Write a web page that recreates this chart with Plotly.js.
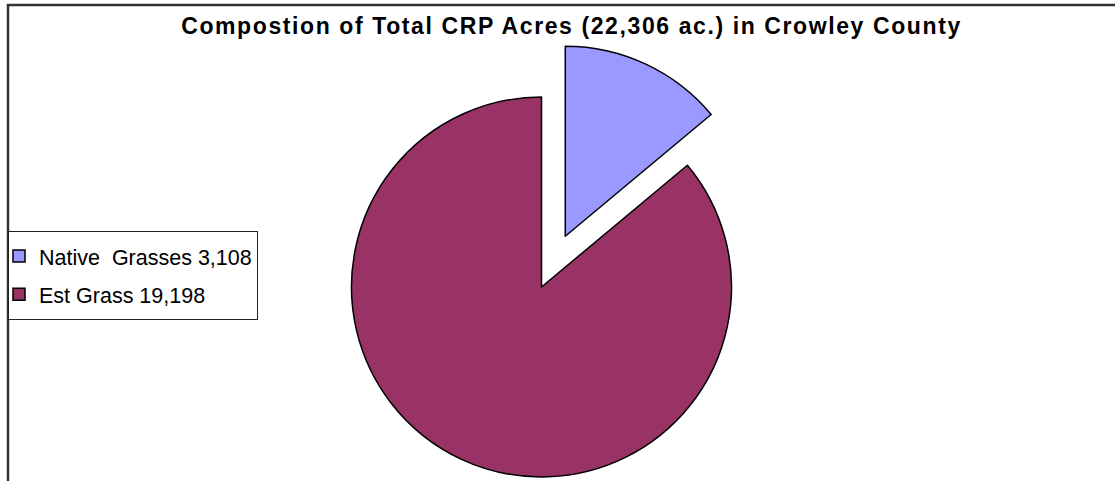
<!DOCTYPE html>
<html>
<head>
<meta charset="utf-8">
<script src="https://cdn.plot.ly/plotly-3.0.1.min.js"></script>
<style>
html, body { margin: 0; padding: 0; overflow: hidden; background: #fff; }
#chart { width: 1115px; height: 600px; }
#chart .gtitle { letter-spacing: 1.6px; }
#chart .legendtext { transform: translateY(-2px); }
</style>
</head>
<body>
<div id="chart"></div>
<script>
// Data
const categories = ["Native\u00a0 Grasses 3,108", "Est Grass 19,198"];
const acres = [3108, 19198];
const pulls = [0.295, 0];
const colors = ["#9999FF", "#993366"];
const titleText = "Compostion of Total CRP Acres (22,306 ac.) in Crowley County";

const W = 1115, H = 600;
const cx = 541.5, cy = 287, r = 190;
const maxPull = Math.max(...pulls);
const half = r * (1 + maxPull);

const trace = {
  type: "pie",
  labels: categories.map(c => '<span style="font-size:21.5px">' + c + '</span>'),
  values: acres,
  pull: pulls,
  sort: false,
  direction: "clockwise",
  rotation: 0,
  textinfo: "none",
  hoverinfo: "label+value+percent",
  marker: { colors: colors, line: { color: "#000000", width: 1.5 } },
  domain: {
    x: [(cx - half - 4) / W, (cx + half + 4) / W],
    y: [(H - cy - half) / H, (H - cy + half) / H]
  }
};

const layout = {
  width: W, height: H,
  margin: { l: 0, r: 0, t: 0, b: 0 },
  paper_bgcolor: "#ffffff",
  font: { family: "Arial, 'Liberation Sans', sans-serif", color: "#000000" },
  title: {
    text: "<b>" + titleText + "</b>",
    font: { family: "Arial, 'Liberation Sans', sans-serif", size: 23, color: "#000000" },
    x: 571.5 / W, xanchor: "center", xref: "paper",
    y: 1 - 26 / H, yanchor: "middle", yref: "container"
  },
  showlegend: true,
  legend: {
    x: 8 / W, xanchor: "left",
    y: 1 - 231 / H, yanchor: "top",
    bgcolor: "#ffffff",
    bordercolor: "#222222", borderwidth: 1,
    indentation: -10,
    font: { family: "Arial, 'Liberation Sans', sans-serif", size: 27, color: "#000000" },
    traceorder: "normal"
  },
  shapes: [{
    type: "rect", xref: "paper", yref: "paper",
    x0: 8 / W, x1: 1.02, y0: -0.05, y1: 1 - 5 / H,
    line: { color: "#333333", width: 2.5 }, fillcolor: "rgba(0,0,0,0)", layer: "below"
  }]
};

Plotly.newPlot("chart", [trace], layout, { displayModeBar: false });
</script>
</body>
</html>
